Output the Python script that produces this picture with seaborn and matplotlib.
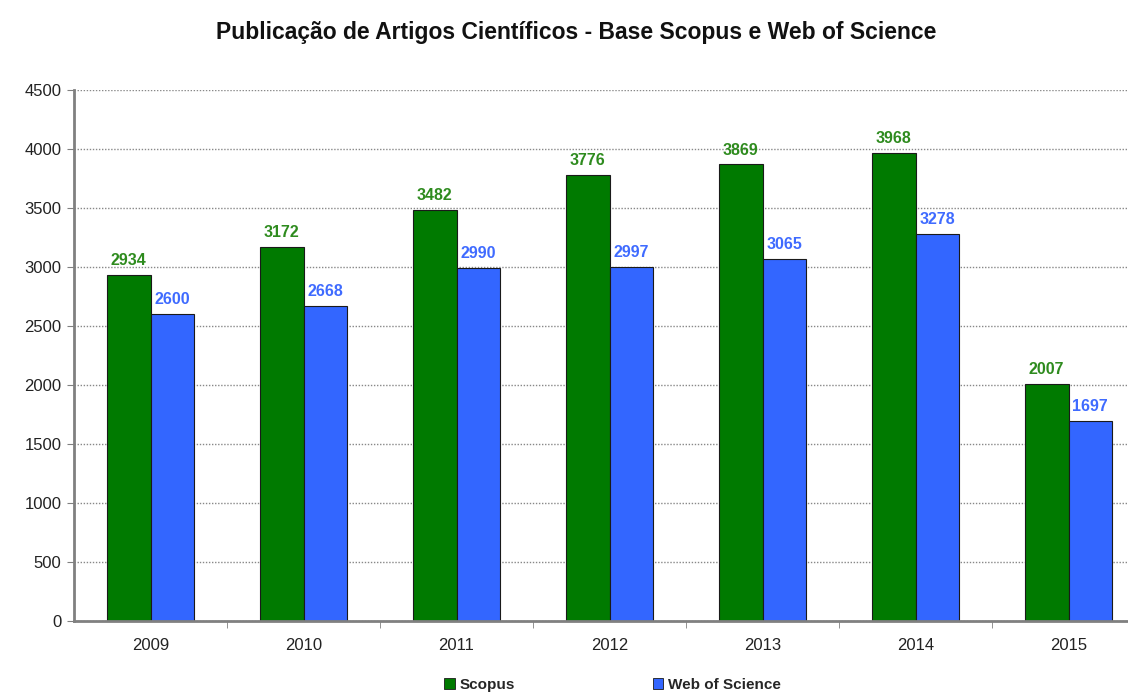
import matplotlib
matplotlib.use("Agg")
import matplotlib.pyplot as plt
import seaborn as sns
import pandas as pd

anos = ["2009", "2010", "2011", "2012", "2013", "2014", "2015"]
scopus = [2934, 3172, 3482, 3776, 3869, 3968, 2007]
wos = [2600, 2668, 2990, 2997, 3065, 3278, 1697]
series = ["Scopus", "Web of Science"]

df = pd.DataFrame({
    "ano": anos * 2,
    "valor": scopus + wos,
    "base": [series[0]] * len(anos) + [series[1]] * len(anos),
})

sns.set_style("white")
plt.rcParams['font.family'] = ['Liberation Sans', 'DejaVu Sans']

cores = {"Scopus": "#007A00", "Web of Science": "#3366FF"}
cores_txt = {"Scopus": "#2E8B1E", "Web of Science": "#3F6BFF"}

fig = plt.figure(figsize=(11.28, 6.96), dpi=100)
ax = fig.add_axes([74 / 1128, 75 / 696, 1071 / 1128, 531 / 696])

sns.barplot(data=df, x="ano", y="valor", hue="base", palette=cores,
            width=0.57, gap=0, edgecolor="#1a1a1a", linewidth=0.8,
            saturation=1, ax=ax, legend=False)

for cont, nome in zip(ax.containers, series):
    ax.bar_label(cont, fmt="%d", padding=5, color=cores_txt[nome],
                 fontsize=11.5, fontweight="bold")

ax.set_ylim(0, 4500)
ax.set_xlim(-0.5, len(anos) - 0.5)
ax.set_yticks(range(0, 4501, 500))
ax.yaxis.grid(True, linestyle=(0, (1, 1.2)), color="#888888", linewidth=1)
ax.set_axisbelow(True)
ax.set_xlabel("")
ax.set_ylabel("")

for s in ["top", "right"]:
    ax.spines[s].set_visible(False)
ax.spines["left"].set_color("#808080")
ax.spines["left"].set_linewidth(2)
ax.spines["bottom"].set_color("#808080")
ax.spines["bottom"].set_linewidth(2)

ax.tick_params(axis="y", left=True, length=5, color="#808080", labelsize=12,
               labelcolor="#222222", pad=4)
ax.tick_params(axis="x", bottom=False, labelsize=12, labelcolor="#222222", pad=9)
ax.set_xticks([i + 0.5 for i in range(len(anos) - 1)], minor=True)
ax.tick_params(axis="x", which="minor", bottom=True, length=5, color="#808080")

fig.suptitle("Publicação de Artigos Científicos - Base Scopus e Web of Science",
             x=0.511, y=0.97, fontsize=16.5, fontweight="bold", color="#111111")

handles = [plt.Rectangle((0, 0), 1, 1, facecolor=cores[s], edgecolor="#1a1a1a",
                         linewidth=0.6) for s in series]
fig.legend(handles, series, loc="center", bbox_to_anchor=(0.543, 0.016), ncol=2,
           frameon=False, handlelength=0.7, handleheight=0.7,
           handletextpad=0.3, columnspacing=9.0, prop={"weight": "bold", "size": 11})

fig.savefig("out.png", dpi=100)
